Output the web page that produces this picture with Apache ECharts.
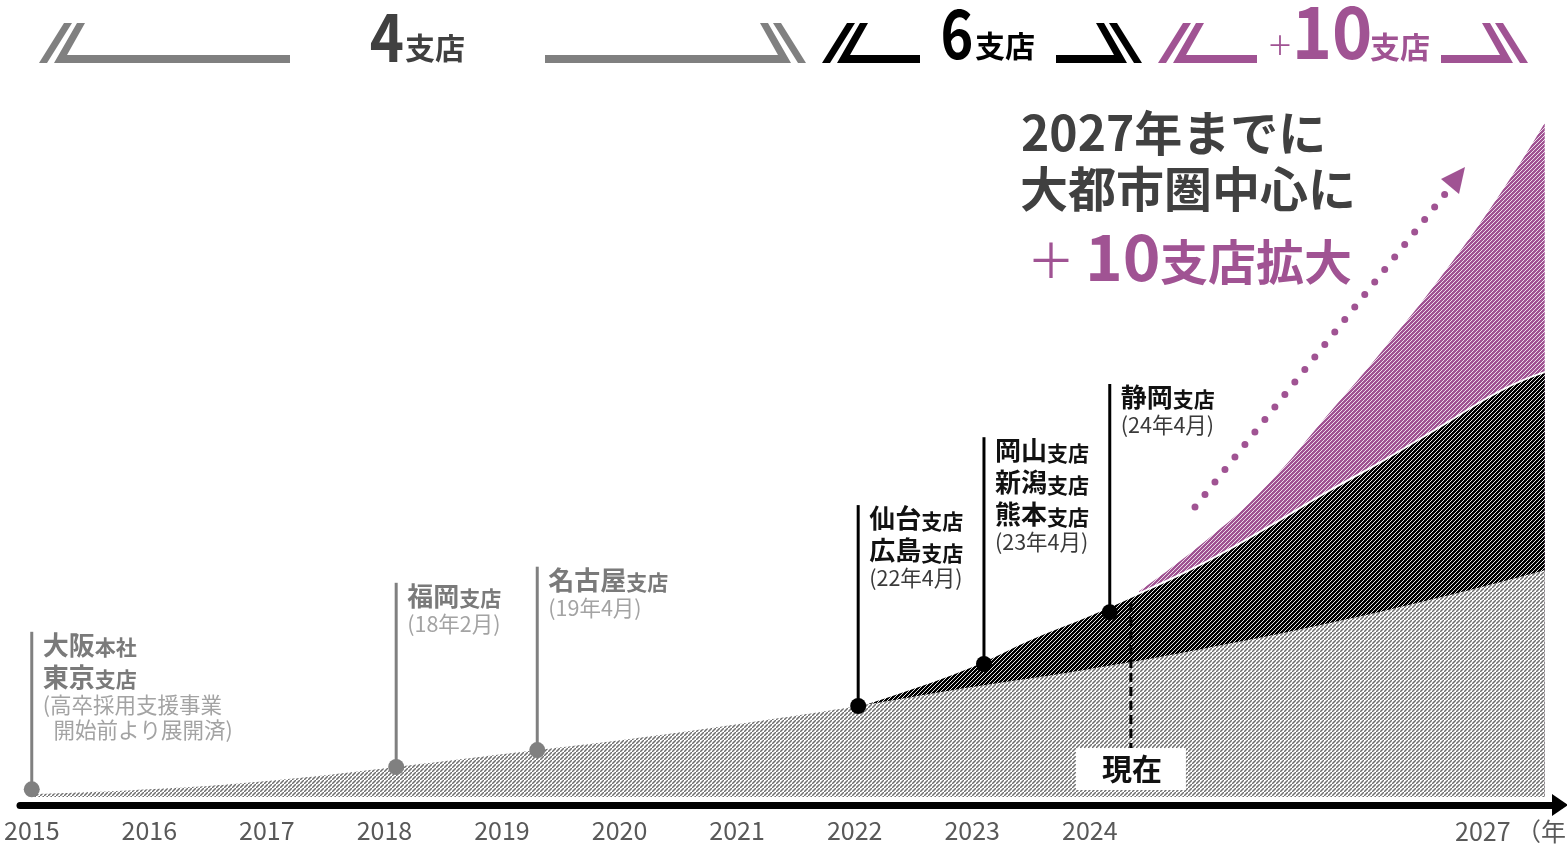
<!DOCTYPE html>
<html><head><meta charset="utf-8">
<script src="https://cdn.jsdelivr.net/npm/echarts@6/dist/echarts.min.js"></script>
<style>html,body{margin:0;padding:0;background:#fff}#c{width:1567px;height:848px}</style>
</head><body><div id="c"></div>
<script>
const FONT = '"Noto Sans CJK JP", "Noto Sans CJK SC", sans-serif';

// ---- data ----
const yearTicks = [2015, 2016, 2017, 2018, 2019, 2020, 2021, 2022, 2023, 2024];
const lastTickLabel = '2027 （年）';

const grayYears  = [2015, 2016, 2017, 2018.1, 2019.3, 2020, 2021, 2022.03, 2023, 2024, 2025, 2026, 2027, 2027.87];
const grayValues = [0.4, 1.1, 2.3, 4.3, 6.7, 8.1, 10.4, 13.0, 15.7, 18.3, 21.3, 24.7, 28.6, 32.4];

const blackYears  = [2022.03, 2022.5, 2023, 2023.5, 2024, 2024.5, 2025, 2025.5, 2026, 2026.5, 2027, 2027.5, 2027.87];
const blackValues = [13.0, 15.6, 18.7, 22.6, 26.0, 29.7, 33.7, 38.4, 43.4, 48.1, 53.1, 58.1, 60.7];

const purpleYears  = [2024.42, 2025, 2025.5, 2026, 2026.5, 2027, 2027.5, 2027.87];
const purpleValues = [29.4, 36.8, 44.4, 54.1, 64.0, 74.6, 86.4, 96.3];

const branchYears     = [2015, 2018.1, 2019.3, 2022.03, 2023.1, 2024.17];
const branchDotValues = [1.1, 4.3, 6.7, 13.0, 19.0, 26.4];
const branchTopValues = [23.6, 30.6, 32.9, 41.7, 51.4, 59.0];
const branchNames = [
  [['大阪', '本社'], ['東京', '支店']],
  [['福岡', '支店']],
  [['名古屋', '支店']],
  [['仙台', '支店'], ['広島', '支店']],
  [['岡山', '支店'], ['新潟', '支店'], ['熊本', '支店']],
  [['静岡', '支店']]
];
const branchNotes = [
  ['(高卒採用支援事業', '\u2002開始前より展開済)'],
  ['(18年2月)'], ['(19年4月)'], ['(22年4月)'], ['(23年4月)'], ['(24年4月)']
];
const branchGroup = ['past', 'past', 'past', 'now', 'now', 'now'];

const nowYear = 2024.35, nowTop = 27.7, nowBottom = 7.0, nowLabel = '現在';

const headline1 = '2027年までに';
const headline2 = '大都市圏中心に';
const headline3 = ['＋', '10', '支店拡大'];

// ---- styles ----
const GRAY = '#808080', DARK = '#404040', PURPLE = '#a05393';

function hatch(bg, fg, size, lw) {
  const c = document.createElement('canvas');
  c.width = c.height = size;
  const ctx = c.getContext('2d');
  ctx.fillStyle = bg; ctx.fillRect(0, 0, size, size);
  ctx.strokeStyle = fg; ctx.lineWidth = lw;
  ctx.beginPath();
  ctx.moveTo(-size, size * 2); ctx.lineTo(size * 2, -size);
  ctx.moveTo(-size * 2, size); ctx.lineTo(size, -size * 2);
  ctx.moveTo(0, size * 3); ctx.lineTo(size * 3, 0);
  ctx.stroke();
  return { image: c, repeat: 'repeat' };
}
const grayPat = hatch('#ffffff', '#6f6f6f', 4, 1.5);
const blackPat = hatch('#000000', '#ffffff', 4, 0.9);
const purplePat = hatch(PURPLE, '#ffffff', 4, 0.8);

function zip(xs, ys) { return xs.map((x, i) => [x, ys[i]]); }

function renderBranch(params, api) {
  const i = params.dataIndex;
  const x = api.value(0);
  const pd = api.coord([x, api.value(1)]);
  const pt = api.coord([x, api.value(2)]);
  const past = branchGroup[i] === 'past';
  const lineColor = past ? GRAY : '#000';
  const nameColor = past ? '#7a7a7a' : '#111';
  const noteColor = past ? '#a3a3a3' : '#3a3a3a';
  const children = [
    { type: 'line', shape: { x1: pd[0], y1: pd[1], x2: pt[0], y2: pt[1] }, style: { stroke: lineColor, lineWidth: 3 } },
    { type: 'circle', shape: { cx: pd[0], cy: pd[1], r: 8 }, style: { fill: lineColor } }
  ];
  const tx = pt[0] + 11;
  let y = pt[1] + 13;
  branchNames[i].forEach((nm, k) => {
    y = pt[1] + 13 + k * 32;
    children.push({
      type: 'text', x: tx, y: y,
      style: {
        text: '{b|' + nm[0] + '}{s|' + nm[1] + '}', align: 'left', verticalAlign: 'middle',
        rich: {
          b: { fontSize: 26, fontWeight: 'bold', fill: nameColor, fontFamily: FONT, verticalAlign: 'bottom' },
          s: { fontSize: 21, fontWeight: 'bold', fill: nameColor, fontFamily: FONT, verticalAlign: 'bottom' }
        }
      }
    });
  });
  branchNotes[i].forEach((nt, k) => {
    children.push({
      type: 'text', x: tx, y: y + 28 + k * 25,
      style: { text: nt, fontSize: 21.5, fill: noteColor, fontFamily: FONT, align: 'left', verticalAlign: 'middle' }
    });
  });
  return { type: 'group', children };
}

function renderNow(params, api) {
  const x = api.value(0);
  const pTop = api.coord([x, api.value(1)]);
  const pBot = api.coord([x, api.value(2)]);
  return { type: 'group', children: [
    { type: 'line', shape: { x1: pTop[0], y1: pTop[1], x2: pBot[0], y2: pBot[1] }, style: { stroke: '#000', lineWidth: 3, lineDash: [9, 5] } },
    { type: 'rect', shape: { x: pBot[0] - 55, y: pBot[1], width: 110, height: 42 }, style: { fill: '#fff' } },
    { type: 'text', x: pBot[0] + 1, y: pBot[1] + 21, style: { text: nowLabel, fontSize: 30, fontWeight: 'bold', fill: '#111', fontFamily: FONT, align: 'center', verticalAlign: 'middle' } }
  ] };
}

function bracket(x0, xEnd, dir, color) {
  const d = dir;
  return [
    { type: 'polygon', shape: { points: [[x0, 63], [x0 + 8 * d, 63], [x0 + 33 * d, 23], [x0 + 25 * d, 23]] }, style: { fill: color } },
    { type: 'polygon', shape: { points: [[x0 + 15 * d, 63], [xEnd, 63], [xEnd, 55], [x0 + 28 * d, 55], [x0 + 46 * d, 23], [x0 + 38 * d, 23]] }, style: { fill: color } }
  ];
}

function txt(x, y, text, size, color, weight, align, scaleX) {
  return { type: 'text', x: x, y: y, scaleX: scaleX || 1, originX: 0, originY: 0,
    style: { text: text, fontSize: size, fontWeight: weight || 'normal', fill: color, fontFamily: FONT, align: align || 'left', verticalAlign: 'middle' } };
}

const graphics = [].concat(
  bracket(39, 290, 1, GRAY), bracket(806, 545, -1, GRAY),
  bracket(822, 920, 1, '#000'), bracket(1142, 1056, -1, '#000'),
  bracket(1158, 1257, 1, PURPLE), bracket(1528, 1441, -1, PURPLE),
  [
    txt(387, 37, '4', 66, DARK, 'bold', 'center', 0.88),
    txt(405, 48, '支店', 30, DARK, 'bold', 'left'),
    txt(957, 33, '6', 68, '#000', 'bold', 'center', 0.82),
    txt(975, 46, '支店', 30, '#000', 'bold', 'left'),
    txt(1280, 45, '＋', 26, PURPLE, 'normal', 'center'),
    txt(1332, 32, '10', 72, PURPLE, 'bold', 'center', 0.95),
    txt(1370, 47, '支店', 30, PURPLE, 'bold', 'left'),
    txt(1021, 133, headline1, 48, DARK, 'bold', 'left'),
    txt(1020, 189, headline2, 48, DARK, 'bold', 'left'),
    txt(1027, 260, headline3[0], 48, PURPLE, 'normal', 'left'),
    txt(1085, 257, headline3[1], 64, PURPLE, 'bold', 'left'),
    txt(1160, 262, headline3[2], 48, PURPLE, 'bold', 'left'),
    txt(1455, 831, lastTickLabel, 25, '#595959', 'normal', 'left'),
    { type: 'line', shape: { x1: 1195, y1: 507, x2: 1445, y2: 194 }, style: { stroke: PURPLE, lineWidth: 7, lineCap: 'round', lineDash: [0, 16] } },
    { type: 'polygon', shape: { points: [[1465, 167], [1441, 179], [1459, 194]] }, style: { fill: PURPLE } }
  ]
);

const chart = echarts.init(document.getElementById('c'), null, { renderer: 'canvas' });
chart.setOption({
  animation: false,
  backgroundColor: '#fff',
  grid: { left: 20, right: 7, top: 97, bottom: 51 },
  xAxis: {
    type: 'value', min: 2014.9, max: 2028, offset: 8,
    axisLine: { show: true, onZero: false, lineStyle: { color: '#000', width: 7 }, symbol: ['none', 'triangle'], symbolSize: [22, 16] },
    axisTick: { show: false }, splitLine: { show: false },
    axisLabel: { customValues: yearTicks, formatter: v => String(v), fontSize: 25, color: '#595959', margin: 13, fontFamily: FONT }
  },
  yAxis: { type: 'value', min: 0, max: 100, show: false },
  series: [
    { type: 'line', name: '+10支店', z: 2, data: zip(purpleYears, purpleValues), smooth: 0.5, showSymbol: false,
      lineStyle: { width: 0 }, areaStyle: { color: purplePat, opacity: 1, origin: 'start' } },
    { type: 'line', name: '6支店', z: 3, data: zip(blackYears, blackValues), smooth: 0.5, showSymbol: false,
      lineStyle: { width: 2, color: '#fff' }, areaStyle: { color: blackPat, opacity: 1, origin: 'start' } },
    { type: 'line', name: '4支店', z: 4, data: zip(grayYears, grayValues), smooth: 0.5, showSymbol: false,
      lineStyle: { width: 0 }, areaStyle: { color: grayPat, opacity: 1, origin: 'start' } },
    { type: 'custom', z: 10, renderItem: renderNow, clip: false, data: [[nowYear, nowTop, nowBottom]], encode: { x: 0, y: [1, 2] } },
    { type: 'custom', z: 11, renderItem: renderBranch, clip: false,
      data: branchYears.map((x, i) => [x, branchDotValues[i], branchTopValues[i]]), encode: { x: 0, y: [1, 2] } }
  ],
  graphic: graphics
});
</script></body></html>
